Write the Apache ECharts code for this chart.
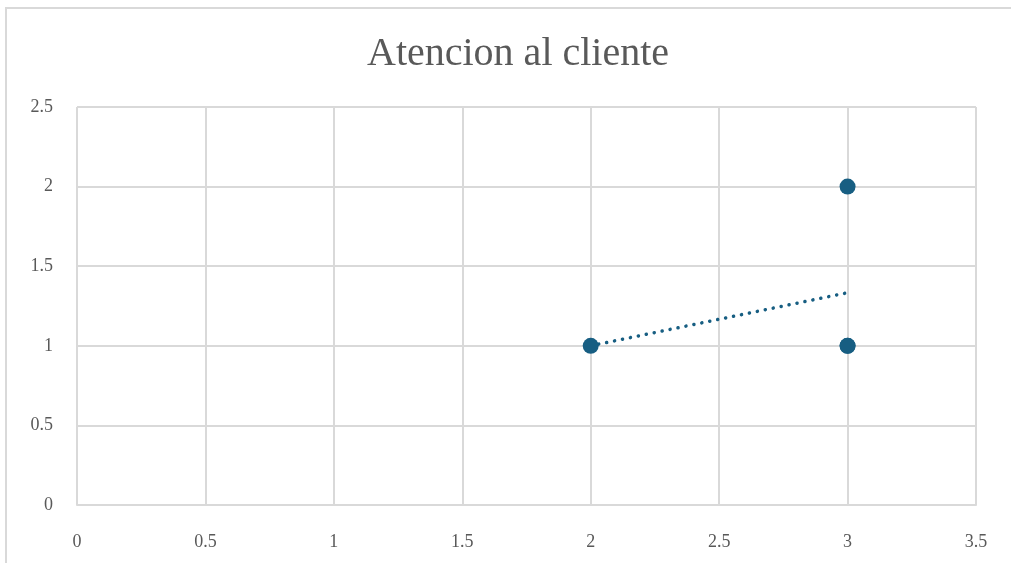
<!DOCTYPE html>
<html>
<head>
<meta charset="utf-8">
<script src="https://cdn.jsdelivr.net/npm/echarts@6/dist/echarts.min.js"></script>
<style>
html,body{margin:0;padding:0;background:#fff;}
#chart{width:1011px;height:563px;}
</style>
</head>
<body>
<div id="chart"></div>
<script>
const titleText = "Atencion al cliente";
const xValues = [2, 3, 3, 3];
const yValues = [1, 2, 1, 1];
const xTicks = [0, 0.5, 1, 1.5, 2, 2.5, 3, 3.5];
const yTicks = [0, 0.5, 1, 1.5, 2, 2.5];

const points = xValues.map((x, i) => [x, yValues[i]]);

// linear least-squares trendline (Excel "Linear" trendline) over the data range
const n = xValues.length;
const mx = xValues.reduce((a, b) => a + b, 0) / n;
const my = yValues.reduce((a, b) => a + b, 0) / n;
let sxy = 0, sxx = 0;
for (let i = 0; i < n; i++) { sxy += (xValues[i] - mx) * (yValues[i] - my); sxx += (xValues[i] - mx) ** 2; }
const slope = sxy / sxx;
const intercept = my - slope * mx;
const xMin = Math.min(...xValues), xMax = Math.max(...xValues);
const trend = [[xMin, intercept + slope * xMin], [xMax, intercept + slope * xMax]];

const color = "#175e82";
const font = "'Liberation Serif', 'DejaVu Serif', serif";

const chart = echarts.init(document.getElementById('chart'), null, {renderer: 'canvas'});
chart.setOption({
  backgroundColor: '#fff',
  animation: false,
  title: {
    text: titleText,
    left: 362,
    top: 29,
    textStyle: {fontFamily: font, fontSize: 40, fontWeight: 'normal', color: '#595959'}
  },
  graphic: [{
    type: 'polyline',
    shape: {points: [[6, 563], [6, 8], [1011, 8]]},
    style: {stroke: '#d9d9d9', lineWidth: 2, fill: null},
    silent: true
  }],
  grid: {left: 77, right: 35, top: 107, bottom: 58, containLabel: false},
  xAxis: {
    type: 'value', min: 0, max: 3.5, interval: 0.5,
    axisLine: {show: true, lineStyle: {color: '#d9d9d9', width: 2}},
    axisTick: {show: false},
    splitLine: {show: true, lineStyle: {color: '#d9d9d9', width: 2}},
    axisLabel: {
      margin: 28, color: '#595959', fontFamily: font, fontSize: 18,
      formatter: v => xTicks.includes(v) ? String(v) : ''
    }
  },
  yAxis: {
    type: 'value', min: 0, max: 2.5, interval: 0.5,
    axisLine: {show: false},
    axisTick: {show: false},
    splitLine: {show: true, lineStyle: {color: '#d9d9d9', width: 2}},
    axisLabel: {
      margin: 24, color: '#595959', fontFamily: font, fontSize: 18,
      padding: [12, 0, 0, 0],
      formatter: v => yTicks.includes(v) ? String(v) : ''
    }
  },
  series: [
    {
      type: 'line',
      data: trend,
      symbol: 'none',
      silent: true,
      lineStyle: {color: color, width: 3.5, type: [0.1, 8], cap: 'round'},
      z: 2
    },
    {
      type: 'scatter',
      data: points,
      symbol: 'circle',
      symbolSize: 16,
      itemStyle: {color: color, opacity: 1},
      z: 3
    }
  ]
});
</script>
</body>
</html>
